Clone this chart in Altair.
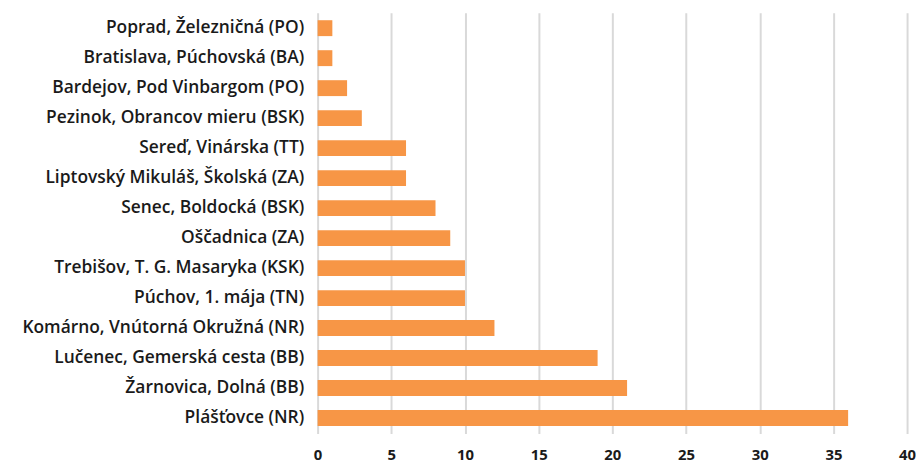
import altair as alt
import pandas as pd

stations = [
    "Poprad, Železničná (PO)",
    "Bratislava, Púchovská (BA)",
    "Bardejov, Pod Vinbargom (PO)",
    "Pezinok, Obrancov mieru (BSK)",
    "Sereď, Vinárska (TT)",
    "Liptovský Mikuláš, Školská (ZA)",
    "Senec, Boldocká (BSK)",
    "Oščadnica (ZA)",
    "Trebišov, T. G. Masaryka (KSK)",
    "Púchov, 1. mája (TN)",
    "Komárno, Vnútorná Okružná (NR)",
    "Lučenec, Gemerská cesta (BB)",
    "Žarnovica, Dolná (BB)",
    "Plášťovce (NR)",
]
values = [1, 1, 2, 3, 6, 6, 8, 9, 10, 10, 12, 19, 21, 36]

df = pd.DataFrame({"station": stations, "value": values})

FONT = "Open Sans"

chart = (
    alt.Chart(df)
    .mark_bar(color="#F79646")
    .encode(
        x=alt.X(
            "value:Q",
            scale=alt.Scale(domain=[0, 40], nice=False),
            axis=alt.Axis(
                title=None,
                values=[0, 5, 10, 15, 20, 25, 30, 35, 40],
                domain=False,
                ticks=False,
                grid=True,
                gridColor="#d9d9d9",
                gridWidth=2,
                labelFont=FONT,
                labelFontSize=15,
                labelFontWeight="bold",
                labelColor="#1a1a1a",
                labelPadding=14,
                labelFlush=False,
            ),
        ),
        y=alt.Y(
            "station:N",
            sort=stations,
            scale=alt.Scale(paddingInner=0.47, paddingOuter=0.25),
            axis=alt.Axis(
                title=None,
                domain=False,
                ticks=False,
                grid=False,
                labelFont=FONT,
                labelFontSize=17.5,
                labelFontWeight=600,
                labelColor="#1a1a1a",
                labelPadding=14,
                minExtent=312,
                maxExtent=312,
                labelLimit=400,
            ),
        ),
    )
    .properties(
        width=594,
        height=424,
        padding={"left": 0, "top": 3, "right": 0, "bottom": 0},
    )
    .configure_view(stroke=None)
)

chart.save("out.html", embed_options={"renderer": "svg", "actions": False})
